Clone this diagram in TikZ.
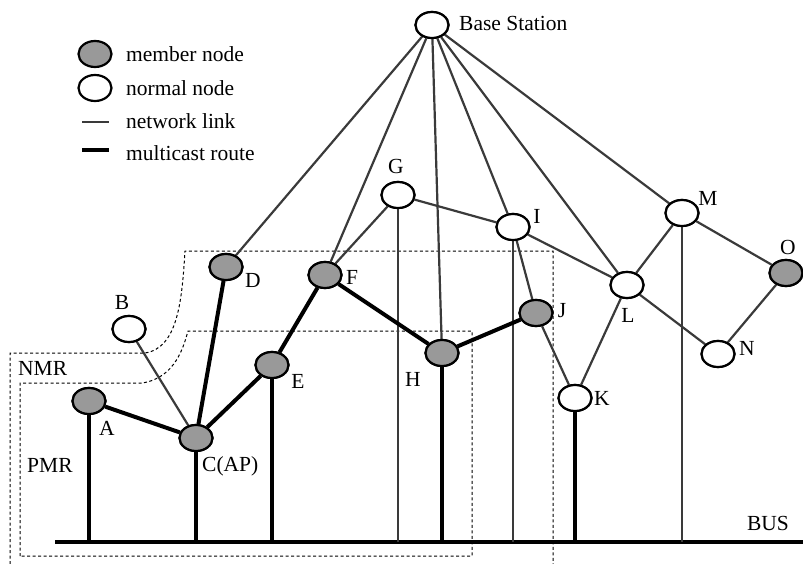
\documentclass[tikz,border=0pt]{standalone}
\usepackage{fontspec}
\setmainfont{Liberation Serif}
\usetikzlibrary{shapes.geometric}
\definecolor{memgray}{RGB}{153,153,153}
\definecolor{linkgray}{RGB}{58,58,58}
\begin{document}
\begin{tikzpicture}[x=1pt,y=-1pt,
  base/.style={ellipse, draw=black, line width=2.2pt, minimum width=33pt, minimum height=26pt, inner sep=0pt},
  mem/.style={base, fill=memgray},
  nrm/.style={base, fill=white},
  lnk/.style={draw=linkgray, line width=2.2pt},
  mc/.style={draw=black, line width=4pt},
  bus/.style={draw=black, line width=4pt},
  lbl/.style={font=\fontsize{21.5}{24}\selectfont, inner sep=0pt},
  region/.style={draw=black, line width=1pt, dash pattern=on 3pt off 2.5pt}]
\useasboundingbox (0,0) rectangle (803,564);

% dashed regions
\draw[region] (10,564) -- (10,353) -- (145,353) .. controls (178,348) and (182,300) .. (185,251) -- (553,251) -- (553,564);
\draw[region] (20,556) -- (20,383) -- (142,383) .. controls (176,378) and (184,345) .. (188,331) -- (472,331) -- (472,556) -- cycle;

% bus
\coordinate (busL) at (55,542);
\coordinate (busR) at (803,542);
\draw[bus] (busL) -- (busR);

% nodes
\node[nrm] (BS) at (432,25) {};
\node[nrm] (B) at (129,329) {};
\node[mem] (A) at (89,401) {};
\node[mem] (C) at (196,438) {};
\node[mem] (D) at (226,267) {};
\node[mem] (E) at (272,365) {};
\node[mem] (F) at (325,275) {};
\node[nrm] (G) at (398,195) {};
\node[mem] (H) at (442,353) {};
\node[nrm] (I) at (513,227) {};
\node[mem] (J) at (536,313) {};
\node[nrm] (K) at (575,398) {};
\node[nrm] (L) at (627,285) {};
\node[nrm] (M) at (682,213) {};
\node[nrm] (N) at (718,354) {};
\node[mem] (O) at (786,273) {};

% bus taps
\coordinate (a0) at (89,542);
\coordinate (c0) at (196,542);
\coordinate (e0) at (272,542);
\coordinate (g0) at (398,542);
\coordinate (h0) at (442,542);
\coordinate (i0) at (513,542);
\coordinate (k0) at (575,542);
\coordinate (m0) at (682,542);

% network links
\draw[lnk] (BS) -- (D);
\draw[lnk] (BS) -- (F);
\draw[lnk] (BS) -- (H);
\draw[lnk] (BS) -- (I);
\draw[lnk] (BS) -- (L);
\draw[lnk] (BS) -- (M);
\draw[lnk] (B) -- (C);
\draw[lnk] (G) -- (F);
\draw[lnk] (G) -- (I);
\draw[lnk] (I) -- (J);
\draw[lnk] (J) -- (K);
\draw[lnk] (I) -- (L);
\draw[lnk] (L) -- (M);
\draw[lnk] (L) -- (N);
\draw[lnk] (L) -- (K);
\draw[lnk] (M) -- (O);
\draw[lnk] (O) -- (N);
\draw[lnk] (G) -- (g0);
\draw[lnk] (I) -- (i0);
\draw[lnk] (M) -- (m0);

% multicast routes
\draw[mc] (A) -- (C);
\draw[mc] (C) -- (D);
\draw[mc] (C) -- (E);
\draw[mc] (E) -- (F);
\draw[mc] (F) -- (H);
\draw[mc] (H) -- (J);
\draw[mc] (A) -- (a0);
\draw[mc] (C) -- (c0);
\draw[mc] (E) -- (e0);
\draw[mc] (H) -- (h0);
\draw[mc] (K) -- (k0);

% redraw nodes on top
\foreach \n in {BS,B,G,I,K,L,M,N} \node[nrm] at (\n) {};
\foreach \n in {A,C,D,E,F,H,J,O} \node[mem] at (\n) {};

% labels
\node[lbl, anchor=west] (tBS) at (459,23) {Base Station};
\node[lbl] (tA) at (107,428) {A};
\node[lbl] (tB) at (122,302) {B};
\node[lbl, anchor=west] (tC) at (202,466) {C(AP)};
\node[lbl] (tD) at (253,280) {D};
\node[lbl] (tE) at (298,381) {E};
\node[lbl] (tF) at (352,277) {F};
\node[lbl] (tG) at (396,166) {G};
\node[lbl] (tH) at (413,379) {H};
\node[lbl] (tI) at (537,216) {I};
\node[lbl] (tJ) at (562,311) {J};
\node[lbl] (tK) at (602,398) {K};
\node[lbl] (tL) at (628,315) {L};
\node[lbl] (tM) at (708,198) {M};
\node[lbl] (tN) at (747,348) {N};
\node[lbl] (tO) at (788,247) {O};
\node[lbl, anchor=west] (tNMR) at (18,368) {NMR};
\node[lbl, anchor=west] (tPMR) at (27,465) {PMR};
\node[lbl] (tBUS) at (768,523) {BUS};

% legend
\node[mem] (lm) at (95,54) {};
\node[nrm] (ln) at (95,88) {};
\coordinate (ll1) at (82,122);
\coordinate (ll2) at (109,122);
\coordinate (lr1) at (82,150);
\coordinate (lr2) at (109,150);
\draw[lnk] (ll1) -- (ll2);
\draw[mc] (lr1) -- (lr2);
\node[lbl, anchor=west] (tlm) at (126,54) {member node};
\node[lbl, anchor=west] (tln) at (126,88) {normal node};
\node[lbl, anchor=west] (tll) at (126,121) {network link};
\node[lbl, anchor=west] (tlr) at (126,153) {multicast route};
\end{tikzpicture}
\end{document}
